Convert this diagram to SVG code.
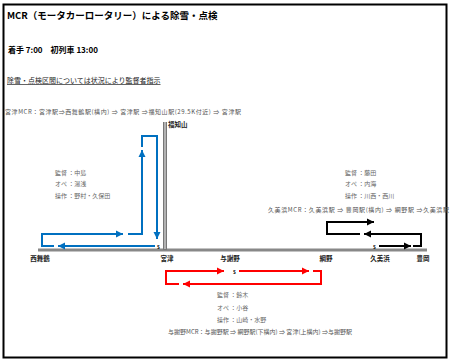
<svg xmlns="http://www.w3.org/2000/svg" width="452" height="362" viewBox="0 0 452 362">
<style>
text{font-family:"Noto Sans CJK JP","Liberation Sans",sans-serif;}
.t{font-size:9.5px;font-weight:bold;fill:#000}
.h{font-size:8px;font-weight:bold;fill:#000}
.u{font-size:7px;fill:#222;text-decoration:underline}
.r{font-size:6px;fill:#555}
.info{font-size:6px;fill:#666}
.st{font-size:6.5px;font-weight:bold;fill:#222}
.s{font-size:5.5px;font-weight:bold;fill:#000}
.blue{fill:none;stroke:#0070C0;stroke-width:2}
.red{fill:none;stroke:#FF0000;stroke-width:2}
.blk{fill:none;stroke:#000;stroke-width:2}
</style>
<defs>
<marker id="ab" markerUnits="userSpaceOnUse" markerWidth="8" markerHeight="8" refX="7" refY="4" orient="auto"><path d="M0,0.5 L7,4 L0,7.5 Z" fill="#0070C0"/></marker>
<marker id="ar" markerUnits="userSpaceOnUse" markerWidth="8" markerHeight="8" refX="7" refY="4" orient="auto"><path d="M0,0.5 L7,4 L0,7.5 Z" fill="#FF0000"/></marker>
<marker id="ak" markerUnits="userSpaceOnUse" markerWidth="8" markerHeight="8" refX="7" refY="4" orient="auto"><path d="M0,0.5 L7,4 L0,7.5 Z" fill="#000"/></marker>
</defs>
<rect x="0" y="0" width="452" height="362" fill="#fff"/>
<rect x="3.5" y="4.5" width="443" height="353" fill="none" stroke="#000" stroke-width="2"/>

<g id="header">
<text class="t" x="7" y="19">MCR（モータカーロータリー）による除雪・点検</text>
<text class="h" x="8" y="53">着手 7:00　初列車 13:00</text>
<text class="u" x="7" y="83">除雪・点検区間については状況により監督者指示</text>
</g>

<g id="tracks">
<line x1="38" y1="250" x2="427" y2="250" stroke="#888" stroke-width="3"/>
<line x1="165" y1="122" x2="165" y2="250" stroke="#777" stroke-width="4"/>
<line x1="165" y1="122" x2="165" y2="249" stroke="#eee" stroke-width="1"/>
</g>

<g id="stations">
<text class="st" x="168" y="127">福知山</text>
<text class="st" x="40" y="261" text-anchor="middle">西舞鶴</text>
<text class="st" x="167" y="261" text-anchor="middle">宮津</text>
<text class="st" x="230" y="261" text-anchor="middle">与謝野</text>
<text class="st" x="326" y="261" text-anchor="middle">網野</text>
<text class="st" x="380" y="261" text-anchor="middle">久美浜</text>
<text class="st" x="423" y="261" text-anchor="middle">豊岡</text>
</g>

<g id="miyazu-team">
<text class="r" x="5" y="114" textLength="236">宮津MCR：宮津駅⇒西舞鶴駅(構内) ⇒ 宮津駅 ⇒福知山駅(29.5K付近) ⇒ 宮津駅</text>
<text class="info" x="55" y="175">監督 ：中島</text>
<text class="info" x="55" y="186">オペ ：湯浅</text>
<text class="info" x="55" y="198">操作 ：野村・久保田</text>
</g>

<g id="kumihama-team">
<text class="info" x="345" y="175">監督 ：藤田</text>
<text class="info" x="345" y="186">オペ ：内海</text>
<text class="info" x="345" y="198">操作 ：川西・西川</text>
<text class="r" x="268" y="212" textLength="181">久美浜MCR：久美浜駅 ⇒ 豊岡駅(構内) ⇒ 網野駅 ⇒久美浜駅</text>
</g>

<g id="yosano-team">
<text class="info" x="217" y="297">監督 ：鈴木</text>
<text class="info" x="217" y="310">オペ ：小谷</text>
<text class="info" x="217" y="322">操作 ：山崎・水野</text>
<text class="r" x="168" y="334" textLength="184">与謝野MCR：与謝野駅 ⇒ 網野駅(下構内) ⇒ 宮津(上構内) ⇒与謝野駅</text>
</g>

<g id="connectors">
<text class="s" x="157" y="249">s</text>
<path class="blue" d="M155,246 L58,246" marker-end="url(#ab)"/>
<path class="blue" d="M54,246 L42,246 L42,234 L123,234" marker-end="url(#ab)"/>
<path class="blue" d="M128,234 L142,234 L142,150" marker-end="url(#ab)"/>
<path class="blue" d="M142,147 L142,136 L157,136 L157,239" marker-end="url(#ab)"/>

<text class="s" x="373" y="249">s</text>
<path class="blk" d="M379,246 L411,246" marker-end="url(#ak)"/>
<path class="blk" d="M413,246 L421,246 L421,234 L364,234" marker-end="url(#ak)"/>
<path class="blk" d="M360,234 L327,234 L327,222 L374,222" marker-end="url(#ak)"/>

<text class="s" x="233" y="274">s</text>
<path class="red" d="M239,271 L309,271" marker-end="url(#ar)"/>
<path class="red" d="M313,271 L321,271 L321,284 L183,284" marker-end="url(#ar)"/>
<path class="red" d="M179,284 L166,284 L166,271 L224,271" marker-end="url(#ar)"/>
</g>
</svg>
